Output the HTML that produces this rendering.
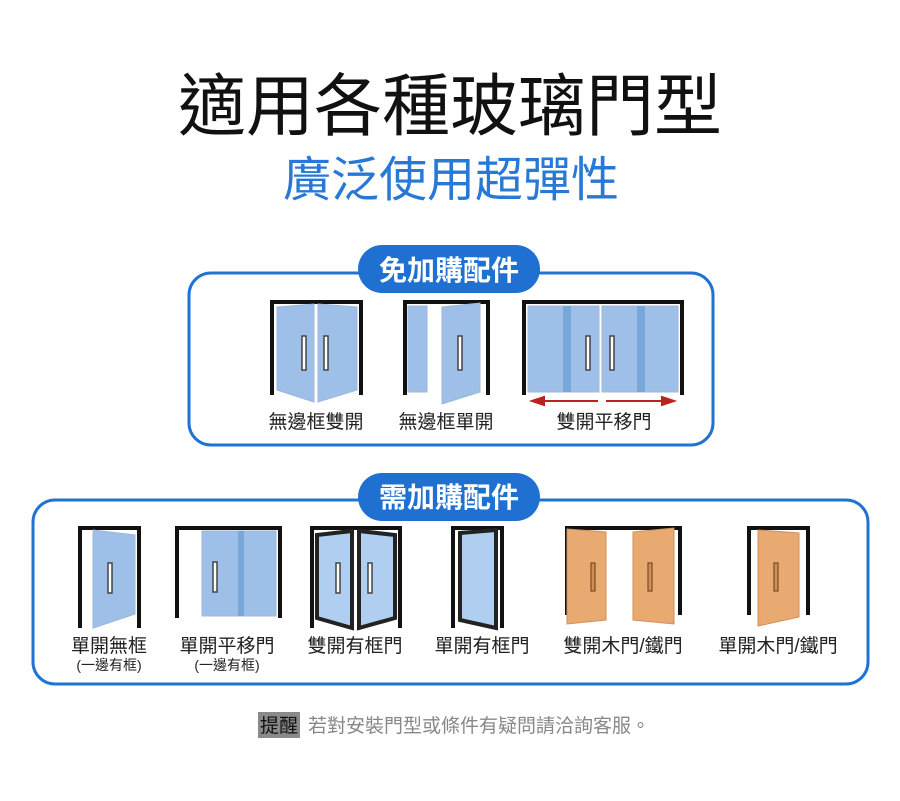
<!DOCTYPE html>
<html><head><meta charset="utf-8"><style>
body{margin:0;background:#fff;}
svg{display:block;font-family:"Liberation Sans","Noto Sans CJK TC",sans-serif;}
</style></head><body>
<svg width="900" height="801" viewBox="0 0 900 801" xmlns="http://www.w3.org/2000/svg">
<rect width="900" height="801" fill="#fff"/>
<text x="450" y="130" font-size="68" text-anchor="middle" fill="#111" font-weight="normal">適用各種玻璃門型</text>
<text x="451" y="196" font-size="48" text-anchor="middle" fill="#2878d6">廣泛使用超彈性</text>

<rect x="189" y="273" width="524" height="172" rx="22" fill="none" stroke="#1f73d2" stroke-width="3"/>
<rect x="358" y="245" width="182" height="48" rx="24" fill="#1f70d0"/>
<text x="449" y="280" font-size="28" font-weight="bold" fill="#fff" text-anchor="middle">免加購配件</text>

<rect x="33" y="500" width="835" height="184" rx="22" fill="none" stroke="#1f73d2" stroke-width="3"/>
<rect x="358" y="473" width="182" height="48" rx="24" fill="#1f70d0"/>
<text x="449" y="507" font-size="28" font-weight="bold" fill="#fff" text-anchor="middle">需加購配件</text>

<g fill="none" stroke="#111" stroke-width="4">
<path d="M272 395V302H361V395"/>
<path d="M405 395V302H488V395"/>
<path d="M524 395V302H682V395"/>
<path d="M80 628V528H139V628"/>
<path d="M177 618V528H280V618"/>
<path d="M312 628V528H400V628"/>
<path d="M453 628V528H502V628"/>
<path d="M567 615V528H680V615"/>
<path d="M749 615V528H808V615"/>
</g>
<g fill="#9ec0e8" stroke="#9bb7d8" stroke-width="1">
<polygon points="277,307 314,304 314,402 277,390"/>
<polygon points="318,304 357,307 357,390 318,402"/>
<rect x="408" y="306" width="19" height="86"/>
<polygon points="442,307 480,303 480,392 442,404"/>
<rect x="528" y="306" width="71" height="86"/>
<rect x="602" y="306" width="76" height="86"/>
<polygon points="93,530 135,535 135,614 93,628"/>
<rect x="202" y="531" width="74" height="85"/>
</g>
<rect x="563" y="306" width="8" height="86" fill="#7aa7da"/>
<rect x="637" y="306" width="8" height="86" fill="#7aa7da"/>
<rect x="238" y="531" width="6" height="85" fill="#7aa7da"/>
<g fill="#b0cff0" stroke="#222" stroke-width="4">
<polygon points="317,535 352,531 352,628 317,618"/>
<polygon points="359,531 395,535 395,618 359,628"/>
<polygon points="460,533 496,530 496,628 460,620"/>
</g>
<g fill="#e9aa72" stroke="#d08f58" stroke-width="1">
<polygon points="567,529 606,532 606,620 567,624"/>
<polygon points="633,532 674,528 674,624 633,620"/>
<polygon points="758,530 799,533 799,617 758,626"/>
</g>
<g fill="#fff" stroke="#444" stroke-width="1.5">
<rect x="302" y="336" width="4" height="34"/><rect x="324" y="336" width="4" height="34"/>
<rect x="458" y="336" width="4" height="34"/>
<rect x="586" y="336" width="4" height="34"/><rect x="610" y="336" width="4" height="34"/>
<rect x="108" y="563" width="4" height="30"/>
<rect x="213" y="562" width="4" height="30"/>
<rect x="336" y="563" width="4" height="30"/><rect x="368" y="563" width="4" height="30"/>
</g>
<g fill="#d08f58" stroke="#7a4a20" stroke-width="1.2">
<rect x="591" y="563" width="4" height="28"/><rect x="648" y="563" width="4" height="28"/><rect x="774" y="563" width="4" height="28"/>
</g>
<g stroke="#b22" stroke-width="2" fill="#b22">
<line x1="540" y1="401" x2="598" y2="401"/><polygon points="532,401 544,397 544,405"/>
<line x1="606" y1="401" x2="666" y2="401"/><polygon points="674,401 662,397 662,405"/>
</g>
<g font-size="19" fill="#222" text-anchor="middle">
<text x="316" y="428">無邊框雙開</text>
<text x="446" y="428">無邊框單開</text>
<text x="604" y="428">雙開平移門</text>
<text x="109" y="652">單開無框</text>
<text x="227" y="652">單開平移門</text>
<text x="355" y="652">雙開有框門</text>
<text x="482" y="652">單開有框門</text>
<text x="623" y="652">雙開木門/鐵門</text>
<text x="778" y="652">單開木門/鐵門</text>
</g>
<g font-size="14" fill="#222" text-anchor="middle">
<text x="109" y="670">(一邊有框)</text>
<text x="227" y="670">(一邊有框)</text>
</g>
<rect x="258" y="712" width="42" height="26" fill="#8a8a8a"/>
<text x="279" y="732" font-size="19" fill="#111" text-anchor="middle">提醒</text>
<text x="308" y="732" font-size="19" fill="#888">若對安裝門型或條件有疑問請洽詢客服。</text>
</svg>
</body></html>
